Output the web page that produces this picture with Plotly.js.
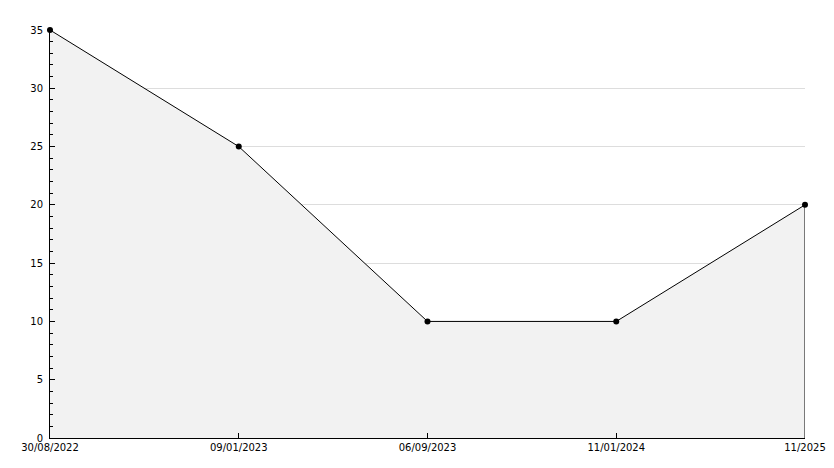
<!DOCTYPE html>
<html>
<head>
<meta charset="utf-8">
<script src="https://cdn.plot.ly/plotly-3.0.1.min.js"></script>
<style>html,body{margin:0;padding:0;background:#fff;}#chart{width:834px;height:468px;}</style>
</head>
<body>
<div id="chart"></div>
<script>
var categories = ["30/08/2022", "09/01/2023", "06/09/2023", "11/01/2024", "11/2025"];
var values = [35, 25, 10, 10, 20];
var yTicks = [0, 5, 10, 15, 20, 25, 30, 35];

var lastCat = categories[categories.length - 1];
var lastVal = values[values.length - 1];

var traces = [
  {
    x: categories, y: values, type: "scatter", mode: "lines",
    fill: "tozeroy", fillcolor: "#f2f2f2",
    line: {color: "#000", width: 1},
    hoverinfo: "skip", cliponaxis: false
  },
  {
    x: [lastCat, lastCat], y: [0, lastVal], type: "scatter", mode: "lines",
    line: {color: "#000", width: 1}, hoverinfo: "skip", cliponaxis: false
  },
  {
    x: categories, y: values, type: "scatter", mode: "markers",
    marker: {color: "#000", size: 6, symbol: "circle"},
    hoverinfo: "x+y", cliponaxis: false
  }
];

var layout = {
  width: 834, height: 468,
  margin: {l: 50, r: 29, t: 30, b: 30},
  paper_bgcolor: "#fff", plot_bgcolor: "#fff",
  showlegend: false,
  font: {family: "DejaVu Sans", size: 10, color: "#000"},
  xaxis: {
    type: "category", categoryorder: "array", categoryarray: categories,
    range: [0, categories.length - 1],
    showgrid: false, zeroline: false,
    showline: true, linecolor: "#000", linewidth: 1,
    ticks: "inside", ticklen: 5, tickcolor: "#000",
    tickfont: {family: "DejaVu Sans", size: 10}
  },
  yaxis: {
    range: [0, 35], tickvals: yTicks, ticktext: yTicks.map(String),
    showgrid: true, gridcolor: "#dddddd", gridwidth: 1, zeroline: false,
    showline: true, linecolor: "#000", linewidth: 1,
    ticks: "inside", ticklen: 5, tickcolor: "#000",
    ticklabelstandoff: 4,
    minor: {dtick: 1, ticks: "inside", ticklen: 3, tickcolor: "#000", showgrid: false},
    tickfont: {family: "DejaVu Sans", size: 10}
  }
};

Plotly.newPlot("chart", traces, layout, {displayModeBar: false, staticPlot: true});
</script>
</body>
</html>
